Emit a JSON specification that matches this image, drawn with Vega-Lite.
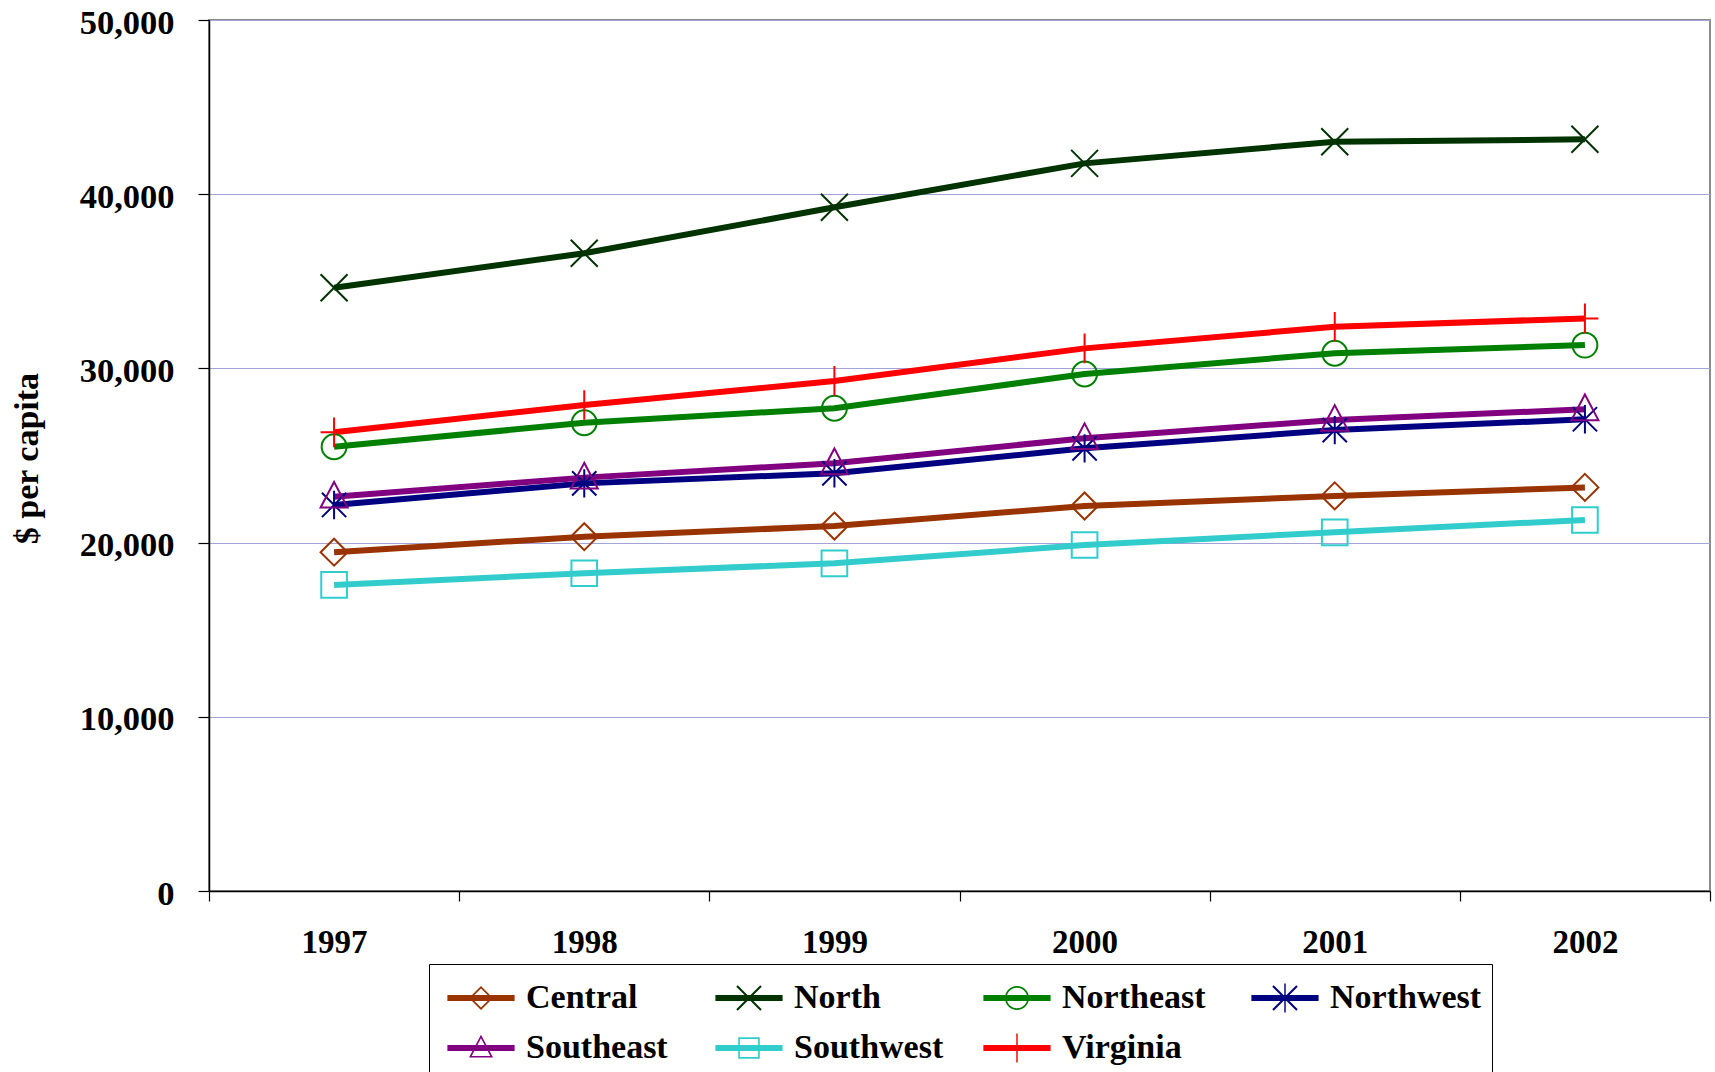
{
  "$schema": "https://vega.github.io/schema/vega-lite/v6.json",
  "width": 1501,
  "height": 871,
  "autosize": "none",
  "padding": {"left": 209, "top": 20, "right": 5, "bottom": 181},
  "background": "white",
  "config": {
    "font": "Liberation Serif",
    "view": {"stroke": "#8c8c8c", "strokeWidth": 2},
    "axis": {"labelFont": "Liberation Serif", "labelFontWeight": "bold", "labelColor": "black", "titleFont": "Liberation Serif", "titleFontWeight": "bold", "titleColor": "black", "domainColor": "black", "tickColor": "black", "domainWidth": 1.5, "tickWidth": 1.2}
  },
  "data": {"values": [
    {"year": "1997", "region": "Central", "value": 19450},
    {"year": "1998", "region": "Central", "value": 20340},
    {"year": "1999", "region": "Central", "value": 20950},
    {"year": "2000", "region": "Central", "value": 22100},
    {"year": "2001", "region": "Central", "value": 22680},
    {"year": "2002", "region": "Central", "value": 23170},
    {"year": "1997", "region": "North", "value": 34630},
    {"year": "1998", "region": "North", "value": 36610},
    {"year": "1999", "region": "North", "value": 39250},
    {"year": "2000", "region": "North", "value": 41770},
    {"year": "2001", "region": "North", "value": 43010},
    {"year": "2002", "region": "North", "value": 43150},
    {"year": "1997", "region": "Northeast", "value": 25500},
    {"year": "1998", "region": "Northeast", "value": 26880},
    {"year": "1999", "region": "Northeast", "value": 27710},
    {"year": "2000", "region": "Northeast", "value": 29680},
    {"year": "2001", "region": "Northeast", "value": 30870},
    {"year": "2002", "region": "Northeast", "value": 31340},
    {"year": "1997", "region": "Northwest", "value": 22160},
    {"year": "1998", "region": "Northwest", "value": 23400},
    {"year": "1999", "region": "Northwest", "value": 23980},
    {"year": "2000", "region": "Northwest", "value": 25410},
    {"year": "2001", "region": "Northwest", "value": 26460},
    {"year": "2002", "region": "Northwest", "value": 27080},
    {"year": "1997", "region": "Southeast", "value": 22630},
    {"year": "1998", "region": "Southeast", "value": 23730},
    {"year": "1999", "region": "Southeast", "value": 24550},
    {"year": "2000", "region": "Southeast", "value": 25990},
    {"year": "2001", "region": "Southeast", "value": 27040},
    {"year": "2002", "region": "Southeast", "value": 27650},
    {"year": "1997", "region": "Southwest", "value": 17570},
    {"year": "1998", "region": "Southwest", "value": 18240},
    {"year": "1999", "region": "Southwest", "value": 18810},
    {"year": "2000", "region": "Southwest", "value": 19860},
    {"year": "2001", "region": "Southwest", "value": 20590},
    {"year": "2002", "region": "Southwest", "value": 21300},
    {"year": "1997", "region": "Virginia", "value": 26330},
    {"year": "1998", "region": "Virginia", "value": 27900},
    {"year": "1999", "region": "Virginia", "value": 29280},
    {"year": "2000", "region": "Virginia", "value": 31150},
    {"year": "2001", "region": "Virginia", "value": 32390},
    {"year": "2002", "region": "Virginia", "value": 32870}
  ]},
  "encoding": {
    "x": {"field": "year", "type": "ordinal", "title": null,
      "scale": {"type": "band", "paddingInner": 0, "paddingOuter": 0},
      "axis": {"labelAngle": 0, "labelFontSize": 33, "tickBand": "extent", "tickSize": 10, "labelPadding": 25, "grid": false}},
    "y": {"field": "value", "type": "quantitative", "title": "$ per capita",
      "scale": {"domain": [0, 50000], "nice": false, "zero": true},
      "axis": {"values": [0, 10000, 20000, 30000, 40000, 50000], "format": ",.0f", "labelFontSize": 34.5, "tickSize": 11, "labelPadding": 24, "labelOffset": 3,
        "grid": true, "gridColor": "#a3a3d9", "gridWidth": 1.2,
        "titleFontSize": 34, "titleAngle": -90, "titleX": -182, "titleY": 438, "titleAlign": "center", "titleBaseline": "middle"}},
    "color": {"field": "region", "type": "nominal",
      "scale": {"domain": ["Central", "North", "Northeast", "Northwest", "Southeast", "Southwest", "Virginia"],
                "range": ["#993300", "#003300", "#008000", "#000080", "#800080", "#33CCCC", "#FF0000"]}}
  },
  "resolve": {"scale": {"shape": "independent"}, "legend": {"shape": "independent", "color": "independent"}},
  "layer": [
    {
      "mark": {"type": "line", "strokeWidth": 6},
      "encoding": {
        "color": {"field": "region", "type": "nominal", "legend": null}
      }
    },
    {
      "mark": {"type": "point", "filled": false, "opacity": 1, "strokeWidth": 2, "size": 729},
      "encoding": {
        "color": {"field": "region", "type": "nominal", "legend": null},
        "shape": {"field": "region", "type": "nominal", "legend": null,
          "scale": {"domain": ["Central", "North", "Northeast", "Northwest", "Southeast", "Southwest", "Virginia"],
                    "range": ["M0,-1L1,0L0,1L-1,0Z", "M-1,-1L1,1M-1,1L1,-1", "M0.92,0A0.92,0.92 0 1,1 -0.92,0A0.92,0.92 0 1,1 0.92,0Z", "M-0.9,-0.9L0.9,0.9M-0.9,0.9L0.9,-0.9M0,-1.05L0,1.05", "M0,-1.1L1,0.8L-1,0.8Z", "M-0.95,-0.95H0.95V0.95H-0.95Z", "M-1,0H1M0,-1.1V1.1"]}}
      }
    },
    {
      "mark": {"type": "point", "filled": true, "opacity": 0, "size": 10},
      "encoding": {
        "color": {"field": "region", "type": "nominal",
          "legend": {
            "orient": "none", "legendX": 220, "legendY": 944, "direction": "horizontal", "columns": 4, "gridAlign": "all",
            "title": null, "labelFont": "Liberation Serif", "labelFontSize": 34, "labelFontWeight": "bold", "labelColor": "black",
            "labelLimit": 400, "symbolSize": 2304, "symbolOffset": 18, "labelOffset": 21, "columnPadding": 29, "rowPadding": 9, "padding": 10,
            "strokeColor": "black", "fillColor": "white", "symbolOpacity": 1, "symbolStrokeWidth": 0, "symbolFillColor": "#000000"
          }},
        "shape": {"field": "region", "type": "nominal",
          "legend": {
            "orient": "none", "legendX": 220, "legendY": 944, "direction": "horizontal", "columns": 4, "gridAlign": "all",
            "title": null, "labelFont": "Liberation Serif", "labelFontSize": 34, "labelFontWeight": "bold", "labelColor": "black",
            "labelLimit": 400, "symbolSize": 2304, "symbolOffset": 18, "labelOffset": 21, "columnPadding": 29, "rowPadding": 9, "padding": 10,
            "strokeColor": "black", "fillColor": "white", "symbolOpacity": 1, "symbolStrokeWidth": 0, "symbolFillColor": "#000000"
          },
          "scale": {"domain": ["Central", "North", "Northeast", "Northwest", "Southeast", "Southwest", "Virginia"],
                    "range": [
                      "M-1.4,-0.13H1.4V0.13H-1.4ZM0,-0.5L0.5,0L0,0.5L-0.5,0ZM0,-0.4L-0.4,0L0,0.4L0.4,0Z",
                      "M-1.4,-0.13H1.4V0.13H-1.4ZM-0.47,-0.53L0.53,0.47L0.47,0.53L-0.53,-0.47ZM-0.53,0.47L0.47,-0.53L0.53,-0.47L-0.47,0.53Z",
                      "M-1.4,-0.13H1.4V0.13H-1.4ZM0.5,0A0.5,0.5 0 1,1 -0.5,0A0.5,0.5 0 1,1 0.5,0ZM0.43,0A0.43,0.43 0 1,0 -0.43,0A0.43,0.43 0 1,0 0.43,0Z",
                      "M-1.4,-0.13H1.4V0.13H-1.4ZM-0.47,-0.53L0.53,0.47L0.47,0.53L-0.53,-0.47ZM-0.53,0.47L0.47,-0.53L0.53,-0.47L-0.47,0.53ZM-0.03,-0.6H0.03V0.6H-0.03Z",
                      "M-1.4,-0.13H1.4V0.13H-1.4ZM0,-0.55L0.5,0.4L-0.5,0.4ZM0,-0.41L-0.39,0.33L0.39,0.33Z",
                      "M-1.4,-0.13H1.4V0.13H-1.4ZM-0.45,-0.45H0.45V0.45H-0.45ZM-0.38,-0.38V0.38H0.38V-0.38Z",
                      "M-1.4,-0.13H1.4V0.13H-1.4ZM-0.03,-0.6H0.03V0.6H-0.03Z"]}}
      }
    }
  ]
}
